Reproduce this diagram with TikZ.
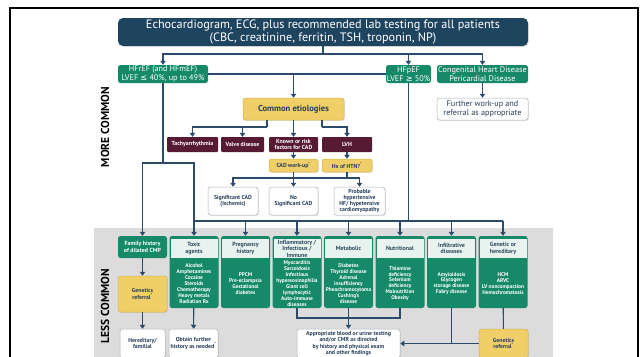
\documentclass[tikz,border=0pt]{standalone}
\usepackage{fontspec}
\setmainfont{PT Sans}
\newfontfamily\symf{DejaVu Sans}
\usetikzlibrary{arrows.meta,shadows}
\definecolor{navy}{HTML}{1F4460}
\definecolor{lnc}{HTML}{2C4A6A}
\definecolor{grn}{HTML}{168A68}
\definecolor{pale}{HTML}{E8F3EF}
\definecolor{hdrtext}{HTML}{2E4B5E}
\definecolor{ylw}{HTML}{F0CF68}
\definecolor{ylwb}{HTML}{D6B44E}
\definecolor{mrn}{HTML}{561A33}
\definecolor{wbord}{HTML}{A8B4C0}
\definecolor{band}{HTML}{DCDCDC}
\definecolor{txtn}{HTML}{253F5A}
\newcommand\hfcol[4]{%
  \node[colbox] (#1) at (#2,272) {};
  \fill[pale] ({#2-23.5},239.2) rectangle ({#2+23.5},258);
  \node[hdrtxt] (#1h) at (#2,248.6) {#3};
  \node[bodytxt] (#1b) at (#2,283.5) {#4};
}
\begin{document}
\begin{tikzpicture}[x=1pt,y=-1pt,
  cn/.style={draw=lnc, line width=1.1pt},
  ar/.style={cn, -{Triangle[width=5.5pt,length=4pt]}},
  box/.style={rounded corners=2.5pt, inner sep=0pt, align=center},
  shd/.style={drop shadow={opacity=0.18,shadow xshift=0.8pt,shadow yshift=-0.9pt}},
  gbox/.style={box, fill=grn, text=white, font=\fontsize{8.2}{9.2}\selectfont, minimum height=18pt},
  ybig/.style={box, shd, fill=ylw, draw=ylwb, line width=0.5pt, text=txtn, font=\fontsize{8.6}{9}\selectfont\bfseries},
  ysmall/.style={box, shd, fill=ylw, draw=ylwb, line width=0.5pt, text=txtn, font=\fontsize{5.8}{6.4}\selectfont\bfseries, minimum width=49pt, minimum height=13pt},
  mbox/.style={box, rounded corners=1pt, fill=mrn, text=white, font=\fontsize{5.9}{6.3}\selectfont\bfseries, minimum height=15pt},
  wbox/.style={box, shd, fill=white, draw=wbord, line width=0.5pt, text=txtn, font=\fontsize{5.8}{6.3}\selectfont\bfseries},
  colbox/.style={box, fill=grn, minimum width=49pt, minimum height=72pt},
  hdrtxt/.style={inner sep=0pt, align=center, text=hdrtext, font=\fontsize{6}{6.4}\selectfont\bfseries},
  bodytxt/.style={inner sep=0pt, align=center, text=white, font=\fontsize{5.4}{5.9}\selectfont\bfseries},
  side/.style={rotate=90, inner sep=0pt, font=\fontsize{11.5}{13}\selectfont\bfseries}
]
\useasboundingbox (0,0) rectangle (642,356);
\clip (0,0) rectangle (642,356);
\fill[white] (0,0) rectangle (642,356);
% frame and band
\draw[black, line width=2pt] (10,8) rectangle (638,420);
\fill[band] (94,228) rectangle (553,420);
% side labels
\node[side] (more) at (105,127) {MORE COMMON};
\node[side] (less) at (105,306) {LESS COMMON};
% top
\node[box, shd, rounded corners=5pt, fill=navy, text=white, minimum width=410pt, minimum height=28pt,
  font=\fontsize{12.2}{12.5}\selectfont] (title) at (323,32)
  {Echocardiogram, ECG, plus recommended lab testing for all patients\\(CBC, creatinine, ferritin, TSH, troponin, NP)};
\node[gbox, minimum width=90pt] (hfref) at (163,74) {HFrEF (and HFmEF)\\LVEF {\symf ≤} 40\%, up to 49\%};
\node[gbox, minimum width=45pt] (hfpef) at (408.5,74) {HFpEF\\LVEF {\symf ≥} 50\%};
\node[gbox, minimum width=91pt] (cong) at (482.5,74) {Congenital Heart Disease\\Pericardial Disease};
\node[box, shd, fill=white, draw=wbord, line width=0.5pt, text=txtn, font=\fontsize{8.2}{9.2}\selectfont,
  minimum width=91pt, minimum height=22pt] (further) at (482.5,109) {Further work-up and\\referral as appropriate};
\node[ybig, minimum width=101pt, minimum height=22pt] (common) at (293.5,109) {Common etiologies};
% maroon row
\node[mbox, minimum width=51pt] (tachy) at (192.5,144.5) {Tachyarrhythmia};
\node[mbox, minimum width=43pt] (valve) at (242.5,144.5) {Valve disease};
\node[mbox, minimum width=49pt] (known) at (293.5,144.5) {Known or risk\\factors for CAD};
\node[mbox, minimum width=50pt] (lvh) at (347,144.5) {LVH};
\node[ysmall] (cad) at (293.5,165.5) {CAD work-up\textsuperscript{*}};
\node[ysmall, minimum width=50pt] (htn) at (347,165.5) {Hx of HTN?\textsuperscript{*}};
\node[wbox, minimum width=50pt, minimum height=28pt] (sigcad) at (233,201) {Significant CAD\\(Ischemic)};
\node[wbox, minimum width=49pt, minimum height=28pt] (nosig) at (293.5,201) {No\\Significant CAD};
\node[wbox, minimum width=51pt, minimum height=28pt] (prob) at (359.5,201) {Probable\\hypertensive\\HF/ hypetensive\\cardiomyopathy};
% lower columns
\node[box, fill=grn, text=white, minimum width=49pt, minimum height=22pt, font=\fontsize{5.9}{6.6}\selectfont\bfseries] (family) at (142.5,247) {Family history\\of dilated CMP};
\hfcol{toxic}{194}{Toxic\\agents}{Alcohol\\Amphetamines\\Cocaine\\Steroids\\Chemotherapy\\Heavy metals\\Radiation Rx}
\hfcol{preg}{245.5}{Pregnancy\\history}{PPCM\\Pre-eclampsia\\Gestational\\diabetes}
\hfcol{inflam}{297}{Inflammatory /\\Infectious /\\Immune}{Myocarditis\\Sarcoidosis\\Infectious\\hypereosinophilia\\Giant cell\\lymphocytic\\Auto-immune\\diseases}
\hfcol{metab}{348.5}{Metabolic}{Diabetes\\Thyroid disease\\Adrenal\\insufficiency\\Pheochromocytoma\\Cushing's\\disease}
\hfcol{nutri}{400}{Nutritional}{Thiamine\\deficiency\\Selenium\\deficiency\\Malnutrition\\Obesity}
\hfcol{infil}{451.5}{Infiltrative\\diseases}{Amyloidosis\\Glycogen\\storage disease\\Fabry disease}
\hfcol{genetic}{503}{Genetic or\\hereditary}{HCM\\ARVC\\LV noncompaction\\Hemochromatosis}
\node[ysmall, minimum height=36pt] (genref1) at (142.5,294) {Genetics\\referral\textsuperscript{*}};
\node[wbox, minimum width=45pt, minimum height=29pt] (hered) at (142.5,343.5) {Hereditary/\\familial};
\node[wbox, minimum width=49pt, minimum height=29pt] (obtain) at (193.5,343.5) {Obtain further\\history as needed\textsuperscript{*}};
\node[wbox, minimum width=103pt, minimum height=29pt] (approp) at (348.5,343.5) {Appropriate blood or urine testing\\and/or CMR as directed\\by history and physical exam\\and other findings};
\node[ysmall, minimum height=29pt] (genref2) at (503.5,343.5) {Genetics\\referral\textsuperscript{*}};
% connectors
\coordinate (t1) at (323,54);
\draw[cn] (title) -- (t1);
\draw[ar] (t1) -| (hfref);
\draw[ar] (t1) -| (hfpef);
\draw[ar] (t1) -| (cong);
\draw[ar] (cong) -- (further);
\draw[cn] (hfref.east) -- (hfpef.west);
\draw[ar] (hfref.east -| common) -- (common);
\coordinate (c1) at (267,127);
\coordinate (c2) at (322,127);
\draw[cn] (common.south -| c1) -- (c1);
\draw[ar] (c1) -| (tachy);
\draw[ar] (c1 -| valve) -- (valve);
\draw[ar] (common) -- (known);
\draw[cn] (common.south -| c2) -- (c2);
\draw[ar] (c2) -| (lvh);
\draw[ar] (known) -- (cad);
\draw[ar] (lvh) -- (htn);
\coordinate (c3) at (293.5,178);
\draw[cn] (cad) -- (c3);
\draw[cn] (htn) -- (htn |- c3);
\draw[ar] (c3) -| (sigcad);
\draw[ar] (c3) -| (prob);
\draw[ar] (c3) -- (nosig);
\coordinate (d1) at (163,163);
\draw[cn] (hfref) -- (d1);
\draw[ar] (d1) -| (family);
\draw[ar] (d1) -| (toxic);
\coordinate (d2) at (408.5,221);
\draw[cn] (hfpef) -- (d2);
\draw[cn] (toxic |- d2) -- (genetic |- d2);
\foreach \n in {preg,inflam,metab,nutri,infil,genetic}{\draw[ar] (\n |- d2) -- (\n);}
\draw[ar] (family) -- (genref1);
\draw[ar] (genref1) -- (hered);
\draw[ar] (toxic) -- (obtain);
\coordinate (e1) at (348.5,318);
\draw[cn] (inflam.south) |- (e1) -| (nutri.south);
\draw[ar] (metab) -- (approp);
\draw[cn] (infil.south) -- (infil.south |- genref2.west);
\draw[ar] (genref2) -- (approp);
\draw[cn] (genetic) -- (genref2);
\end{tikzpicture}
\end{document}
